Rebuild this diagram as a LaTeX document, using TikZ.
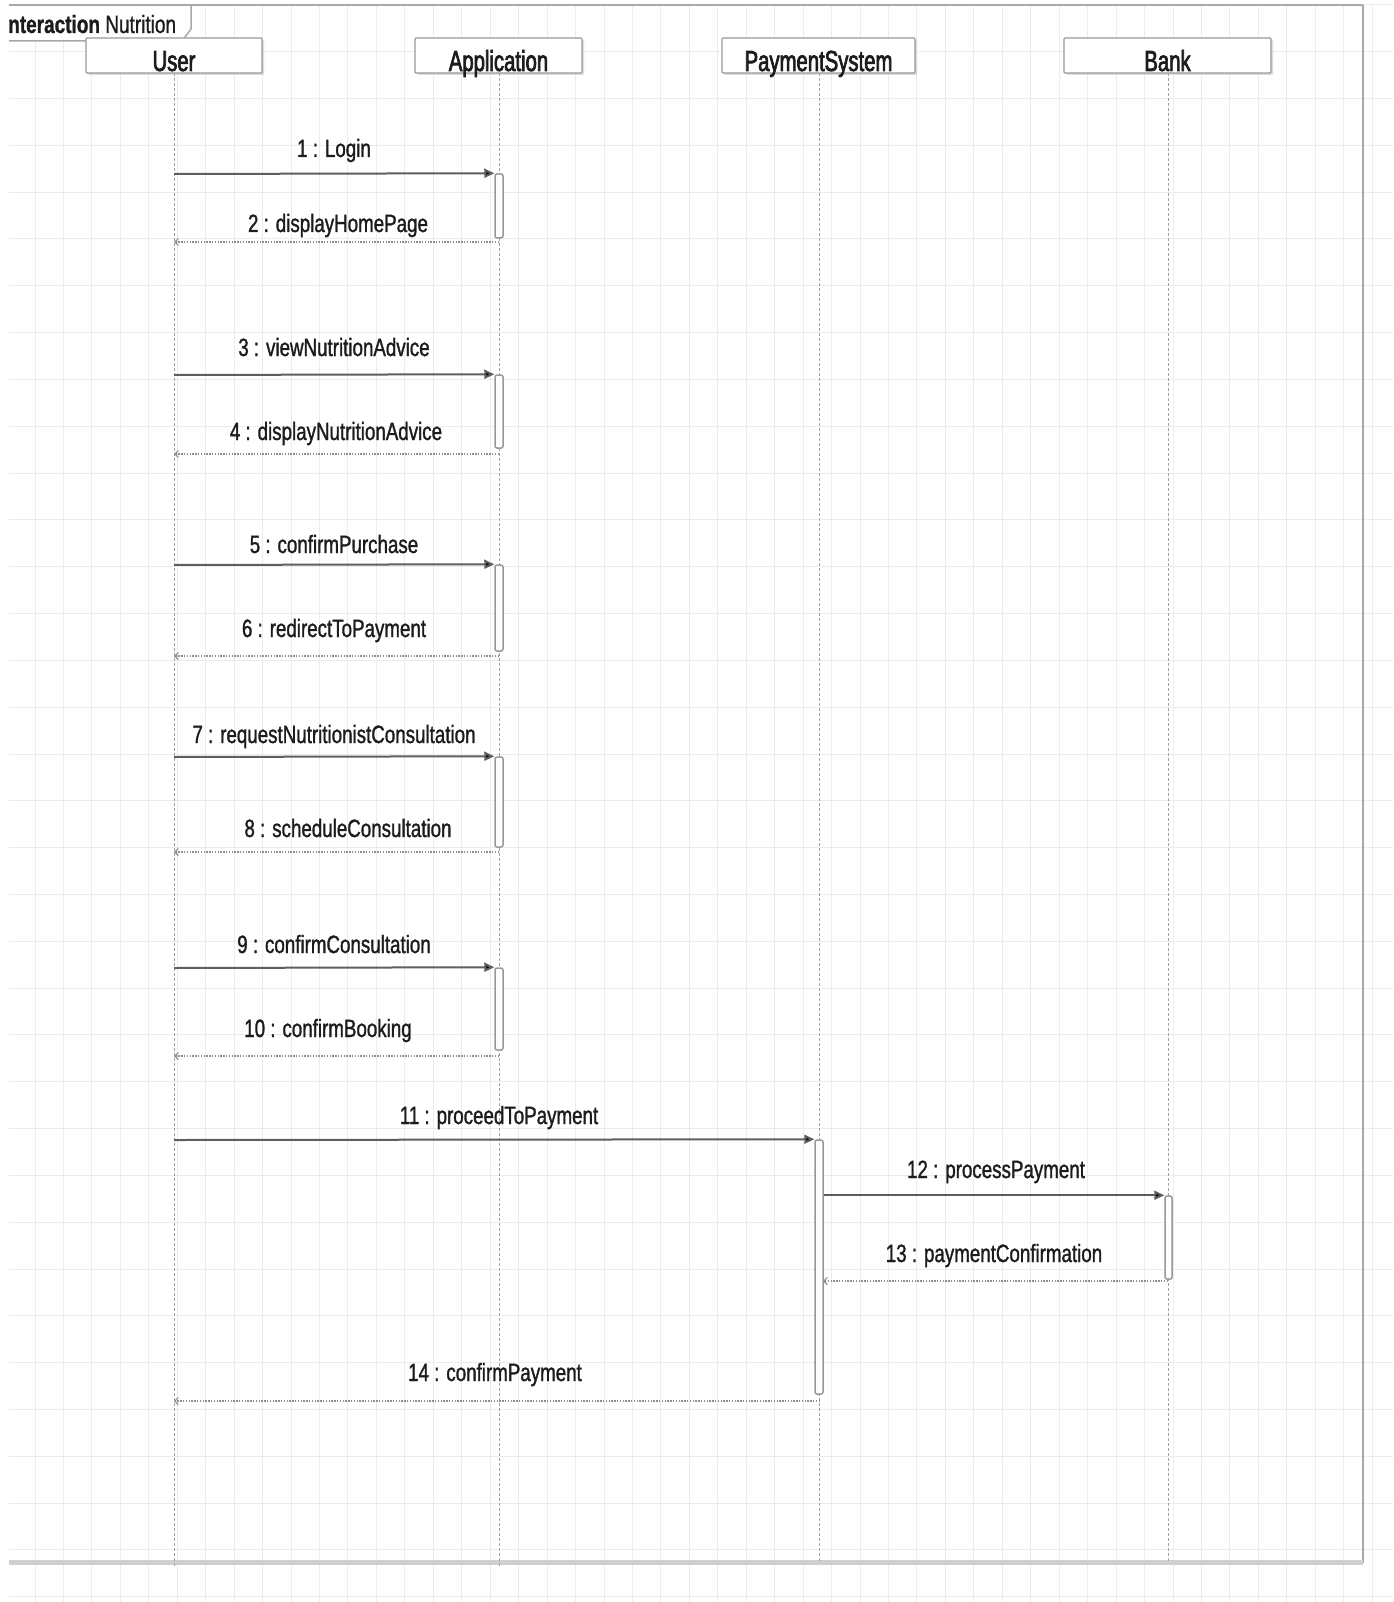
\documentclass[tikz,border=0pt]{standalone}
\usepackage{fontspec}
\setmainfont{Liberation Sans}
\newfontfamily\lblfont{Liberation Sans}[FakeStretch=0.75,FakeBold=1.2]
\newfontfamily\ttlfont{Liberation Sans}[FakeStretch=0.70,FakeBold=2.4]
\newfontfamily\hdrfont{Liberation Sans}[FakeStretch=0.76,FakeBold=1.0]
\usetikzlibrary{arrows.meta,shadows}

\definecolor{gridc}{HTML}{ECECEC}
\definecolor{framec}{HTML}{A8A8A8}
\definecolor{lifec}{HTML}{A0A0A0}
\definecolor{callc}{HTML}{5E5E5E}
\definecolor{retc}{HTML}{8E8E8E}
\definecolor{barc}{HTML}{999999}
\definecolor{txtc}{HTML}{1C1C1C}

\tikzset{
  headbox/.style={draw=barc, fill=white, line width=1.2pt, rounded corners=1pt,
    minimum height=35pt, inner sep=0pt,
    drop shadow={shadow xshift=2pt, shadow yshift=-2pt, fill=black!25, opacity=0.5}},
  headtext/.style={anchor=base, inner sep=0pt, text=txtc, font=\ttlfont\fontsize{29}{32}\selectfont},
  lifeline/.style={draw=lifec, line width=1pt, dash pattern=on 3pt off 2pt},
  actbar/.style={draw=barc, fill=white, line width=1.5pt, rounded corners=2pt,
    minimum width=8pt, inner sep=0pt},
  callmsg/.style={draw=callc, line width=2pt, -{Triangle[length=10pt,width=9pt,fill=black]}},
  retmsg/.style={draw=retc, line width=2.2pt, dash pattern=on 1.5pt off 1.3pt,
    -{Straight Barb[length=3.5pt,width=7pt,line width=1.2pt]}},
  msglbl/.style={anchor=base, inner sep=0pt, text=txtc, font=\lblfont\fontsize{25}{28}\selectfont},
}

\begin{document}
\begin{tikzpicture}[x=1pt,y=-1pt]
\useasboundingbox (0,0) rectangle (1393,1602);
\fill[white] (0,0) rectangle (1393,1602);

% background grid
\foreach \k in {1,...,48} {
  \draw[gridc, line width=1pt] ({6.55+28.45*\k},5) -- ({6.55+28.45*\k},1602);
}
\foreach \k in {0,...,34} {
  \draw[gridc, line width=1pt] (9,{4.9+46.82*\k}) -- (1393,{4.9+46.82*\k});
}

% interaction frame
\fill[white] (9,5) -- (191,5) -- (191,29) -- (182,41) -- (9,41) -- cycle;
\draw[framec, line width=2pt] (9,5) -- (1363,5);
\draw[framec, line width=2pt] (1363,5) -- (1363,1563);
\draw[black!19, line width=5pt] (9,1562.5) -- (1363,1562.5);
\draw[framec, line width=1.5pt] (9,41) -- (182,41) -- (191,29) -- (191,5);
\node[anchor=base west, inner sep=0pt, text=txtc, font=\hdrfont\fontsize{25}{28}\selectfont]
  (frametitle) at (8,33) {\textbf{nteraction} Nutrition};

% lifelines
\coordinate (uTop) at (174,73);   \coordinate (uEnd) at (174,1566);
\coordinate (aTop) at (499,73);   \coordinate (aEnd) at (499,1566);
\coordinate (pTop) at (819,73);   \coordinate (pEnd) at (819,1563);
\coordinate (kTop) at (1168,73);  \coordinate (kEnd) at (1168,1563);
\draw[lifeline] (uTop) -- (uEnd);
\draw[lifeline] (aTop) -- (aEnd);
\draw[lifeline] (pTop) -- (pEnd);
\draw[lifeline] (kTop) -- (kEnd);

% lifeline heads
\node[headbox, minimum width=176pt] (userBox) at (174,55.5) {};
\node[headbox, minimum width=167pt] (appBox)  at (498.5,55.5) {};
\node[headbox, minimum width=193pt] (payBox)  at (818.5,55.5) {};
\node[headbox, minimum width=207pt] (bankBox) at (1167.5,55.5) {};
\node[headtext] (userName) at (174,71) {User};
\node[headtext] (appName)  at (498.5,71) {Application};
\node[headtext] (payName)  at (818.5,71) {PaymentSystem};
\node[headtext] (bankName) at (1167.5,71) {Bank};

% activation bars
\node[actbar, minimum height=64pt] (act1) at (499,206) {};
\node[actbar, minimum height=73pt] (act2) at (499,411.5) {};
\node[actbar, minimum height=86pt] (act3) at (499,608) {};
\node[actbar, minimum height=90pt] (act4) at (499,802) {};
\node[actbar, minimum height=82pt] (act5) at (499,1009) {};
\node[actbar, minimum height=254pt] (actPay) at (819,1267) {};
\node[actbar, minimum height=83pt, minimum width=7pt] (actBank) at (1168.5,1237.5) {};

% message end points on the lifelines
\coordinate (u1) at (174,174);   \coordinate (u2) at (174,242);  \coordinate (a2) at (499,242);
\coordinate (u3) at (174,375);   \coordinate (u4) at (174,454);  \coordinate (a4) at (499,454);
\coordinate (u5) at (174,565);   \coordinate (u6) at (174,656);  \coordinate (a6) at (499,656);
\coordinate (u7) at (174,757);   \coordinate (u8) at (174,852);  \coordinate (a8) at (499,852);
\coordinate (u9) at (174,968);   \coordinate (u10) at (174,1056); \coordinate (a10) at (499,1056);
\coordinate (u11) at (174,1140);
\coordinate (k13) at (1168,1281); \coordinate (p13) at (823,1281);
\coordinate (p14) at (820,1401); \coordinate (u14) at (174,1401);

% messages
\draw[callmsg] (u1) -- (act1.north west);
\draw[retmsg] (a2) -- (u2);
\draw[callmsg] (u3) -- (act2.north west);
\draw[retmsg] (a4) -- (u4);
\draw[callmsg] (u5) -- (act3.north west);
\draw[retmsg] (a6) -- (u6);
\draw[callmsg] (u7) -- (act4.north west);
\draw[retmsg] (a8) -- (u8);
\draw[callmsg] (u9) -- (act5.north west);
\draw[retmsg] (a10) -- (u10);
\draw[callmsg] (u11) -- (actPay.north west);
\draw[callmsg] (actPay.north east |- actBank.north) -- (actBank.north west);
\draw[retmsg] (k13) -- (p13);
\draw[retmsg] (p14) -- (u14);

% message labels
\node[msglbl] (m1)  at (334,157)  {1 : Login};
\node[msglbl] (m2)  at (338,232)  {2 : displayHomePage};
\node[msglbl] (m3)  at (334,356)  {3 : viewNutritionAdvice};
\node[msglbl] (m4)  at (336,440)  {4 : displayNutritionAdvice};
\node[msglbl] (m5)  at (334,553)  {5 : confirmPurchase};
\node[msglbl] (m6)  at (334,637)  {6 : redirectToPayment};
\node[msglbl] (m7)  at (334,743)  {7 : requestNutritionistConsultation};
\node[msglbl] (m8)  at (348,837)  {8 : scheduleConsultation};
\node[msglbl] (m9)  at (334,953)  {9 : confirmConsultation};
\node[msglbl] (m10) at (328,1037) {10 : confirmBooking};
\node[msglbl] (m11) at (499,1124) {11 : proceedToPayment};
\node[msglbl] (m12) at (996,1178) {12 : processPayment};
\node[msglbl] (m13) at (994,1262) {13 : paymentConfirmation};
\node[msglbl] (m14) at (495,1381) {14 : confirmPayment};
\end{tikzpicture}
\end{document}
